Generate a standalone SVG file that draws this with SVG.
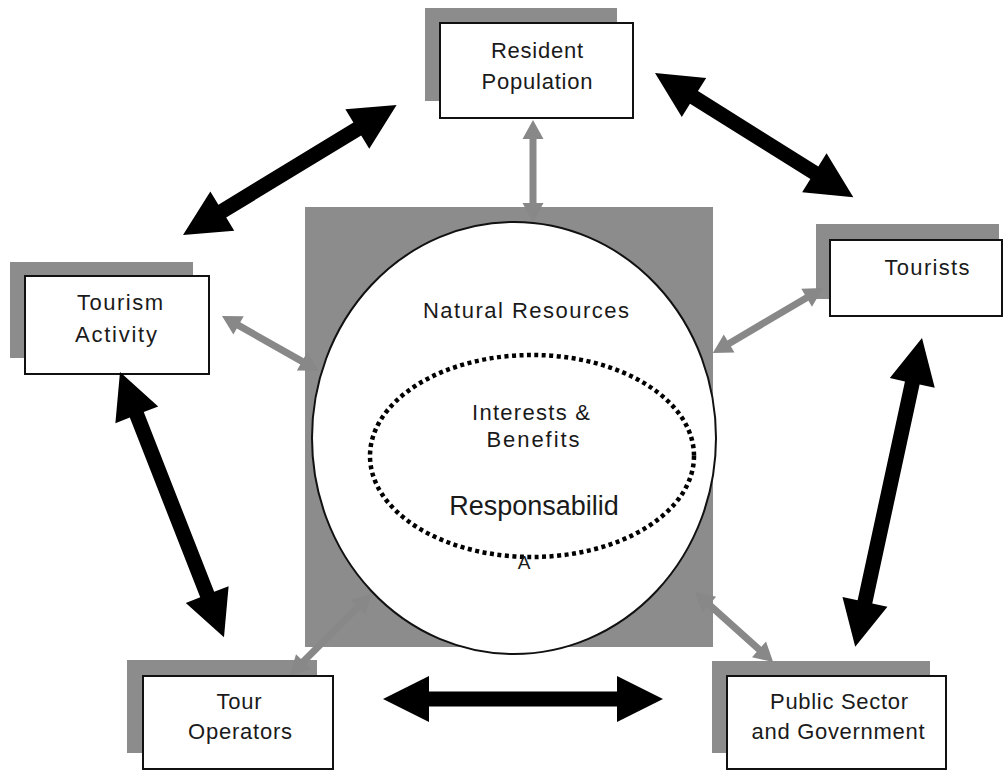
<svg xmlns="http://www.w3.org/2000/svg" width="1006" height="771" viewBox="0 0 1006 771">
  <style>
    .shadow { fill: #8c8c8c; }
    .box { fill: #ffffff; stroke: #111111; stroke-width: 2; }
    .lbl { font-family: "Liberation Sans", Arial, sans-serif; font-size: 22px; fill: #1a1a1a; text-anchor: middle; }
    .big { font-size: 27px; }
    .thick { fill: #000000; }
    .thin { fill: #888888; }
  </style>

  <rect width="1006" height="771" fill="#ffffff"/>

  <!-- central resource core -->
  <g id="core">
    <rect class="shadow" x="305" y="207" width="408" height="440"/>
    <ellipse cx="514" cy="438" rx="202" ry="216" fill="#ffffff" stroke="#111111" stroke-width="2"/>
    <text class="lbl" x="526" y="318" textLength="206" lengthAdjust="spacing">Natural Resources</text>
    <ellipse cx="532" cy="456" rx="162" ry="101" fill="none" stroke="#000000" stroke-width="4.5" stroke-dasharray="4 3.5"/>
    <text class="lbl" x="531" y="420" textLength="118" lengthAdjust="spacing">Interests &amp;</text>
    <text class="lbl" x="533" y="447" textLength="93" lengthAdjust="spacing">Benefits</text>
    <text class="lbl big" x="534" y="515">Responsabilid</text>
    <text class="lbl" x="524" y="569" style="font-size:19px">A</text>
  </g>

  <g id="resident-population">
    <rect class="shadow" x="425" y="8" width="192" height="93"/>
    <rect class="box" x="440" y="23" width="193" height="95"/>
    <text class="lbl" x="537" y="58" textLength="92" lengthAdjust="spacing">Resident</text>
    <text class="lbl" x="537" y="89" textLength="111" lengthAdjust="spacing">Population</text>
  </g>

  <g id="tourism-activity">
    <rect class="shadow" x="10" y="262" width="183" height="96"/>
    <rect class="box" x="25" y="276" width="184" height="98"/>
    <text class="lbl" x="120" y="310" textLength="86" lengthAdjust="spacing">Tourism</text>
    <text class="lbl" x="116" y="342" textLength="82" lengthAdjust="spacing">Activity</text>
  </g>

  <g id="tourists">
    <rect class="shadow" x="816" y="224" width="183" height="75"/>
    <rect class="box" x="830" y="240" width="172" height="76"/>
    <text class="lbl" x="927" y="275" textLength="85" lengthAdjust="spacing">Tourists</text>
  </g>

  <g id="tour-operators">
    <rect class="shadow" x="127" y="660" width="190" height="93"/>
    <rect class="box" x="143" y="676" width="190" height="93"/>
    <text class="lbl" x="239" y="709" textLength="45" lengthAdjust="spacing">Tour</text>
    <text class="lbl" x="240" y="739" textLength="104" lengthAdjust="spacing">Operators</text>
  </g>

  <g id="public-sector">
    <rect class="shadow" x="712" y="661" width="218" height="92"/>
    <rect class="box" x="727" y="676" width="219" height="93"/>
    <text class="lbl" x="839" y="709" textLength="138" lengthAdjust="spacing">Public Sector</text>
    <text class="lbl" x="838" y="739" textLength="173" lengthAdjust="spacing">and Government</text>
  </g>

  <g id="connectors">
    <!-- bold two-way links between stakeholders -->
    <polygon class="thick" transform="translate(183,235) rotate(-31.3)" points="0,0 46,-23 46,-7.5 204,-7.5 204,-23 250,0 204,23 204,7.5 46,7.5 46,23"/>
    <polygon class="thick" transform="translate(655,73) rotate(32.05)" points="0,0 46,-23 46,-7.5 188,-7.5 188,-23 234,0 188,23 188,7.5 46,7.5 46,23"/>
    <polygon class="thick" transform="translate(120,372) rotate(68.6)" points="0,0 46,-23 46,-7.5 239,-7.5 239,-23 285,0 239,23 239,7.5 46,7.5 46,23"/>
    <polygon class="thick" transform="translate(922,338) rotate(102.2)" points="0,0 46,-23 46,-7.5 270,-7.5 270,-23 316,0 270,23 270,7.5 46,7.5 46,23"/>
    <polygon class="thick" transform="translate(383,699)" points="0,0 46,-23 46,-7.5 234,-7.5 234,-23 280,0 234,23 234,7.5 46,7.5 46,23"/>

    <!-- grey links into the resource core -->
    <polygon class="thin" transform="translate(533,120) rotate(90)" points="0,0 19,-10.5 19,-3.5 83,-3.5 83,-10.5 102,0 83,10.5 83,3.5 19,3.5 19,10.5"/>
    <polygon class="thin" transform="translate(222,316) rotate(29.56)" points="0,0 19,-10.5 19,-3.5 92,-3.5 92,-10.5 111,0 92,10.5 92,3.5 19,3.5 19,10.5"/>
    <polygon class="thin" transform="translate(823,288) rotate(149.42)" points="0,0 19,-10.5 19,-3.5 109,-3.5 109,-10.5 128,0 109,10.5 109,3.5 19,3.5 19,10.5"/>
    <polygon class="thin" transform="translate(290,675) rotate(-45)" points="0,0 19,-10.5 19,-3.5 96,-3.5 96,-10.5 115,0 96,10.5 96,3.5 19,3.5 19,10.5"/>
    <polygon class="thin" transform="translate(695,592) rotate(41.9)" points="0,0 19,-10.5 19,-3.5 86,-3.5 86,-10.5 105,0 86,10.5 86,3.5 19,3.5 19,10.5"/>
  </g>
</svg>
